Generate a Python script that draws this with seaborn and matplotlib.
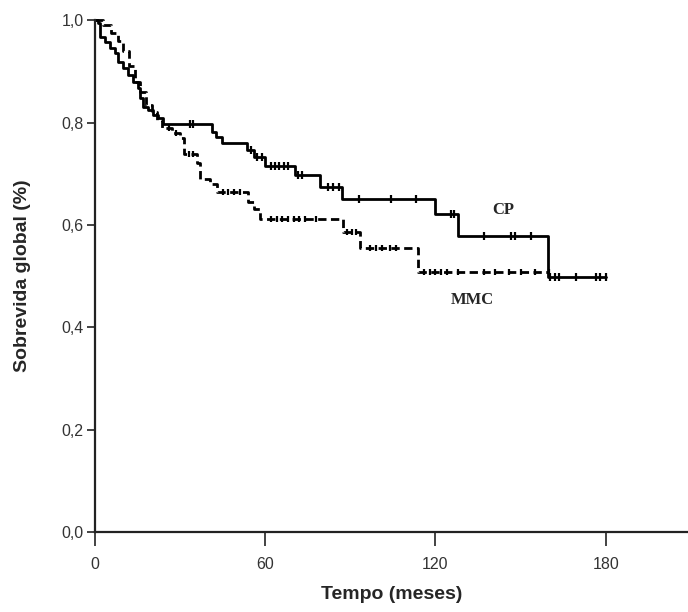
import numpy as np
import pandas as pd
import matplotlib
matplotlib.use("Agg")
import matplotlib.pyplot as plt
import seaborn as sns

# ---- data ----
cp_time = [0, 1.1, 1.8, 3.5, 5.3, 7.1, 8.1, 9.9, 11.6, 13.4, 15.2, 15.9, 17.0, 18.7, 20.5, 22.2, 24.0,
           41.3, 42.5, 44.8, 53.6, 56.0, 60.0, 70.6, 79.4, 87.0, 120.0, 127.8, 159.5, 180.0]
cp_surv = [1.0, 0.994, 0.967, 0.957, 0.945, 0.936, 0.918, 0.906, 0.893, 0.879, 0.867, 0.848, 0.830, 0.824,
           0.814, 0.809, 0.798, 0.781, 0.771, 0.760, 0.746, 0.733, 0.715, 0.697, 0.674, 0.650, 0.622, 0.578,
           0.498, 0.498]
cp_censor = [33.5, 34.6, 55.0, 57.0, 59.0, 62.0, 63.5, 65.0, 66.5, 68.0, 71.5, 73.0, 82.0, 84.0, 86.0,
             93.0, 104.5, 113.0, 125.5, 126.5, 137.0, 146.5, 148.0, 153.5, 160.5, 162.0, 163.5, 169.4,
             176.5, 178.0, 180.0]

mmc_time = [0, 3.0, 5.5, 8.0, 10.0, 12.0, 14.0, 16.0, 18.0, 20.0, 22.0, 23.5, 27.0, 30.0, 31.5, 36.0, 37.0,
            40.5, 43.0, 54.0, 56.0, 58.0, 87.5, 93.5, 114.0, 160.0]
mmc_surv = [1.0, 0.99, 0.975, 0.96, 0.94, 0.91, 0.88, 0.86, 0.835, 0.82, 0.805, 0.79, 0.779, 0.769, 0.738,
            0.72, 0.69, 0.68, 0.664, 0.645, 0.630, 0.611, 0.586, 0.555, 0.508, 0.508]
mmc_censor = [26.0, 28.5, 33.0, 34.5, 45.0, 47.0, 49.0, 51.0, 62.0, 64.0, 66.0, 68.0, 70.0, 72.0, 74.0, 78.0,
              89.0, 90.5, 92.0, 97.0, 99.0, 101.0, 104.0, 106.0, 116.0, 118.0, 120.0, 122.0, 124.0, 128.0,
              137.0, 141.0, 146.0, 150.0, 155.0, 160.0]

x_ticks = [0, 60, 120, 180]
y_ticks = [0.0, 0.2, 0.4, 0.6, 0.8, 1.0]
y_ticklabels = ["0,0", "0,2", "0,4", "0,6", "0,8", "1,0"]

def step_lookup(times, survs, t):
    idx = np.searchsorted(np.asarray(times), t, side="right") - 1
    return np.asarray(survs)[idx]

sns.set_theme(style="white")
plt.rcParams["font.family"] = ["Liberation Sans", "DejaVu Sans"]

fig = plt.figure(figsize=(6.88, 6.12), dpi=100)
ax = fig.add_axes([0.138, 0.131, 0.862, 0.836])

cp_df = pd.DataFrame({"t": cp_time, "s": cp_surv})
mmc_df = pd.DataFrame({"t": mmc_time, "s": mmc_surv})

sns.lineplot(data=mmc_df, x="t", y="s", ax=ax, color="black", lw=2.0,
             drawstyle="steps-post", linestyle=(0, (3, 1.6)), clip_on=False)
sns.lineplot(data=cp_df, x="t", y="s", ax=ax, color="black", lw=2.0,
             drawstyle="steps-post", clip_on=False)

cpc = pd.DataFrame({"t": cp_censor, "s": step_lookup(cp_time, cp_surv, cp_censor)})
mmcc = pd.DataFrame({"t": mmc_censor, "s": step_lookup(mmc_time, mmc_surv, mmc_censor)})
sns.scatterplot(data=cpc, x="t", y="s", ax=ax, marker="|", s=40, color="black", linewidth=1.6, clip_on=False)
sns.scatterplot(data=mmcc, x="t", y="s", ax=ax, marker="|", s=25, color="black", linewidth=1.6, clip_on=False)

ax.set_xlim(0, 209)
ax.set_ylim(0, 1.0)
ax.set_xticks(x_ticks)
ax.set_xticklabels([str(v) for v in x_ticks])
ax.set_yticks(y_ticks)
ax.set_yticklabels(y_ticklabels)

for side in ["top", "right"]:
    ax.spines[side].set_visible(False)
for side in ["left", "bottom"]:
    ax.spines[side].set_color("#222222")
    ax.spines[side].set_linewidth(1.6)

ax.tick_params(axis="x", direction="out", length=10, width=1.2, colors="#222222",
               labelsize=11.5, pad=8, bottom=True)
ax.tick_params(axis="y", direction="out", length=6, width=1.2, colors="#222222",
               labelsize=11.5, pad=2, left=True)
for lab in ax.get_xticklabels() + ax.get_yticklabels():
    lab.set_color("#333333")

ax.set_xlabel("Tempo (meses)", fontsize=14, fontweight="bold",
              family=["Liberation Sans Narrow", "Liberation Sans", "DejaVu Sans"], labelpad=10)
ax.set_ylabel("Sobrevida global (%)", fontsize=14, fontweight="bold",
              family=["Liberation Sans Narrow", "Liberation Sans", "DejaVu Sans"], labelpad=22)

ax.text(144, 0.629, "CP", fontsize=12, fontweight="bold",
        family=["Liberation Serif", "DejaVu Serif"], ha="center", va="center")
ax.text(133, 0.453, "MMC", fontsize=12, fontweight="bold",
        family=["Liberation Serif", "DejaVu Serif"], ha="center", va="center")

fig.savefig("out.png", dpi=100)
